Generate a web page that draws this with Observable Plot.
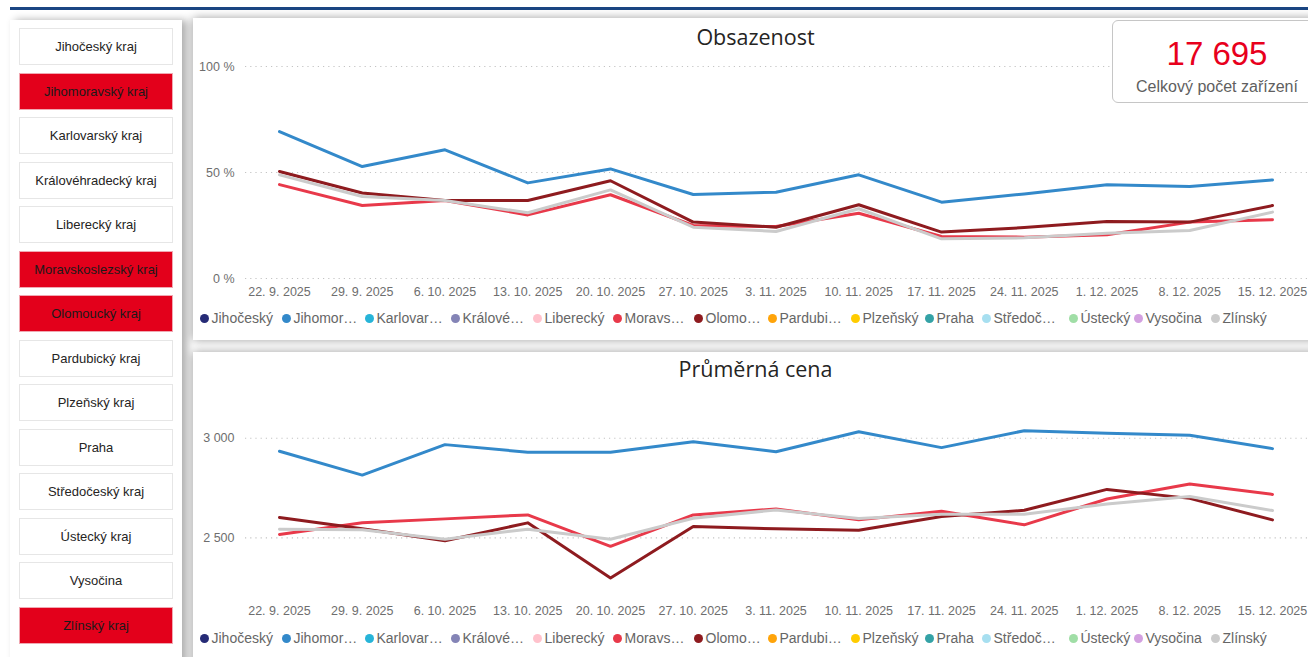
<!DOCTYPE html>
<html><head><meta charset="utf-8">
<script src="https://cdn.jsdelivr.net/npm/d3@7"></script>
<script src="https://cdn.jsdelivr.net/npm/@observablehq/plot@0.6"></script>
<style>
body{margin:0;width:1308px;height:657px;overflow:hidden;background:#fff;font-family:"Liberation Sans",Arial,sans-serif;position:relative}
.topline{position:absolute;left:10px;top:7px;width:1298px;height:3px;background:#1b4683}
.left{position:absolute;left:10px;top:20px;width:172px;height:660px;background:#fff;box-shadow:5px 0 8px rgba(0,0,0,.32)}
.btn{position:absolute;left:9px;width:154px;height:37px;box-sizing:border-box;border:1px solid #e6e6e6;display:flex;align-items:center;justify-content:center;font-size:13px;color:#252423;background:#fff}
.btn.sel{background:#e3001b;border-color:#f0a8b2;color:#1a1a1a}
.panel{position:absolute;left:193px;width:1130px;background:#fff;box-shadow:0 0 9px rgba(0,0,0,.38)}
.title{position:absolute;left:0;width:1125px;text-align:center;font-family:"Open Sans",sans-serif;font-size:21.5px;line-height:21.5px;color:#252423}
.chart{position:absolute;left:0}
.legend .item{position:absolute;height:16px;display:flex;align-items:center;font-size:14px;line-height:16px;color:#666;white-space:nowrap}
.legend .dot{width:9px;height:9px;border-radius:50%;margin-right:3px;flex:none}
.kpi{position:absolute;left:1112px;top:20px;width:210px;height:83px;box-sizing:border-box;border:1px solid #c6c6c6;border-radius:6px;background:#fff}
.kpi .v{position:absolute;left:0;width:208px;top:16px;text-align:center;font-size:33px;line-height:33px;color:#e8001c}
.kpi .c{position:absolute;left:0;width:208px;top:58px;text-align:center;font-size:16px;line-height:16px;color:#5f5f5f}
</style></head>
<body>
<div class="topline"></div>
<div class="left" id="left"></div>
<div class="panel" id="p1" style="top:18px;height:322px">
  <div class="title" style="top:8px">Obsazenost</div>
  <div class="chart" id="c1" style="top:42px"></div>
  <div class="legend" id="l1"></div>
</div>
<div class="panel" id="p2" style="top:352px;height:330px">
  <div class="title" style="top:6px">Průměrná cena</div>
  <div class="chart" id="c2" style="top:31px"></div>
  <div class="legend" id="l2"></div>
</div>
<div class="kpi"><div class="v" id="kpiv"></div><div class="c" id="kpic"></div></div>
<script>
// ---- data ----
const weeks = ["2025-09-22","2025-09-29","2025-10-06","2025-10-13","2025-10-20","2025-10-27","2025-11-03","2025-11-10","2025-11-17","2025-11-24","2025-12-01","2025-12-08","2025-12-15"];

const regions = ["Jihočeský","Jihomoravský","Karlovarský","Královéhradecký","Liberecký","Moravskoslezský","Olomoucký","Pardubický","Plzeňský","Praha","Středočeský","Ústecký","Vysočina","Zlínský"];
const legendLabels = ["Jihočeský","Jihomor…","Karlovar…","Králové…","Liberecký","Moravs…","Olomo…","Pardubi…","Plzeňský","Praha","Středoč…","Ústecký","Vysočina","Zlínský"];
const regionColors = ["#262b76","#3389ca","#27b4d8","#8484b6","#ffc2cc","#e8394a","#8e1b1f","#ffa40a","#ffcc00","#34a2a6","#a7dff0","#a0dea6","#d3a0e0","#cbcbcb"];
const buttonLabels = ["Jihočeský kraj","Jihomoravský kraj","Karlovarský kraj","Královéhradecký kraj","Liberecký kraj","Moravskoslezský kraj","Olomoucký kraj","Pardubický kraj","Plzeňský kraj","Praha","Středočeský kraj","Ústecký kraj","Vysočina","Zlínský kraj"];
const selected = ["Jihomoravský","Moravskoslezský","Olomoucký","Zlínský"];

// Obsazenost (%)
const occJihomoravsky     = [69.3, 52.8, 60.7, 45.1, 51.7, 39.6, 40.7, 48.9, 36.0, 39.9, 44.2, 43.4, 46.5];
const occMoravskoslezsky  = [44.3, 34.4, 36.8, 30.0, 39.5, 25.0, 24.5, 30.8, 19.8, 19.5, 20.6, 26.6, 27.7];
const occOlomoucky        = [50.5, 40.3, 36.8, 36.8, 46.1, 26.6, 24.2, 34.8, 21.9, 24.0, 26.9, 26.6, 34.4];
const occZlinsky          = [48.9, 38.7, 36.8, 31.0, 41.8, 24.2, 22.2, 32.9, 18.7, 19.2, 21.4, 22.6, 31.3];

// Průměrná cena
const priceJihomoravsky    = [2935, 2815, 2968, 2930, 2930, 2982, 2932, 3033, 2953, 3038, 3025, 3015, 2948];
const priceMoravskoslezsky = [2517, 2575, 2595, 2615, 2457, 2615, 2645, 2590, 2633, 2565, 2695, 2770, 2718];
const priceOlomoucky       = [2602, 2545, 2485, 2575, 2298, 2557, 2545, 2538, 2607, 2638, 2743, 2698, 2590];
const priceZlinsky         = [2543, 2540, 2493, 2543, 2493, 2598, 2640, 2597, 2618, 2618, 2670, 2707, 2637];

const occTicks = [0, 50, 100];
const priceTicks = [2500, 3000];
const kpiValue = 17695;
const kpiCaption = "Celkový počet zařízení";

// ---- build ----
const dates = weeks.map(w => new Date(w + "T00:00:00Z"));
function longTable(seriesMap) {
  const rows = [];
  for (const [name, vals] of seriesMap) vals.forEach((v, i) => rows.push({region: name, date: dates[i], value: v}));
  return rows;
}
const occData = longTable([["Jihomoravský", occJihomoravsky], ["Moravskoslezský", occMoravskoslezsky], ["Olomoucký", occOlomoucky], ["Zlínský", occZlinsky]]);
const priceData = longTable([["Jihomoravský", priceJihomoravsky], ["Moravskoslezský", priceMoravskoslezsky], ["Olomoucký", priceOlomoucky], ["Zlínský", priceZlinsky]]);

const fmtDate = d => `${d.getUTCDate()}. ${d.getUTCMonth() + 1}. ${d.getUTCFullYear()}`;
const fmtThousands = v => d3.format(",")(v).replace(/,/g, " ");

function chart(data, yDomain, yTicks, yFmt, height, marginTop) {
  return Plot.plot({
    width: 1115, height, marginLeft: 52, marginRight: 0, marginTop, marginBottom: 27,
    style: {fontFamily: "'Liberation Sans', Arial, sans-serif", fontSize: "12.5px", color: "#6e6e6e", background: "transparent", overflow: "visible"},
    x: {type: "utc", domain: [dates[0], dates[dates.length - 1]], insetLeft: 34, insetRight: 36, ticks: dates, tickFormat: fmtDate, tickSize: 0, tickPadding: 9, label: null},
    y: {domain: yDomain, ticks: yTicks, tickFormat: yFmt, tickSize: 0, tickPadding: 11, label: null},
    color: {domain: regions, range: regionColors},
    marks: [
      Plot.ruleY(yTicks, {stroke: "#c4c4c4", strokeDasharray: "1.2,4", strokeWidth: 1.2}),
      Plot.line(data, {x: "date", y: "value", z: "region", stroke: "region", strokeWidth: 3, strokeLinejoin: "round", strokeLinecap: "round"})
    ]
  });
}

document.getElementById("c1").append(chart(occData, [0, 100], occTicks, v => v + " %", 245, 6));
document.getElementById("c2").append(chart(priceData, [2200, 3250], priceTicks, fmtThousands, 241, 5));

// legends
const legendX = [204, 286, 369, 455, 537, 617, 698, 772, 855, 929, 986, 1073, 1138, 1215];
function legend(el, topRel) {
  regions.forEach((r, i) => {
    const it = document.createElement("div");
    it.className = "item";
    it.style.left = (legendX[i] - 4.5 - 193) + "px";
    it.style.top = topRel + "px";
    const dot = document.createElement("span");
    dot.className = "dot";
    dot.style.background = regionColors[i];
    it.append(dot, document.createTextNode(legendLabels[i]));
    el.append(it);
  });
}
legend(document.getElementById("l1"), 292);
legend(document.getElementById("l2"), 278);

// slicer buttons
const left = document.getElementById("left");
buttonLabels.forEach((b, i) => {
  const d = document.createElement("div");
  d.className = "btn" + (selected.includes(regions[i]) ? " sel" : "");
  d.style.top = (8.3 + i * 44.5) + "px";
  d.textContent = b;
  left.append(d);
});

document.getElementById("kpiv").textContent = fmtThousands(kpiValue);
document.getElementById("kpic").textContent = kpiCaption;
</script>
</body></html>
